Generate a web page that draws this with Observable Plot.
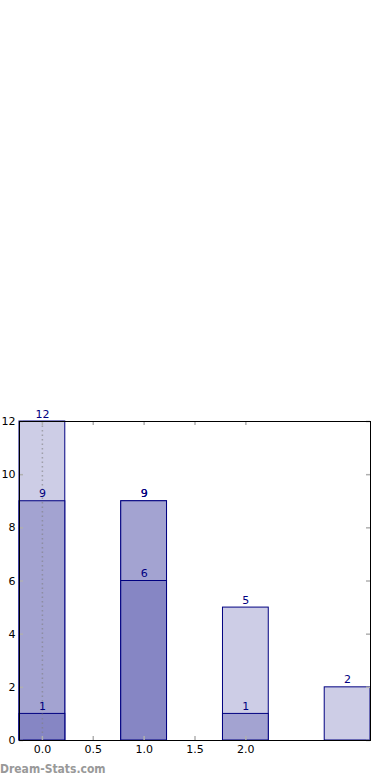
<!DOCTYPE html>
<html>
<head>
<meta charset="utf-8">
<script src="https://cdn.jsdelivr.net/npm/d3@7"></script>
<script src="https://cdn.jsdelivr.net/npm/@observablehq/plot@0.6"></script>
<style>
  html, body { margin: 0; padding: 0; background: #fff; }
  #wrap { position: relative; width: 390px; height: 780px; }
  #wm { position: absolute; left: 0px; top: 762px; font-family: "DejaVu Sans Condensed", "DejaVu Sans", sans-serif; font-stretch: condensed; font-weight: bold; font-size: 12px; line-height: 14px; color: #999; }
</style>
</head>
<body>
<div id="wrap"><div id="wm">Dream-Stats.com</div></div>
<script>
const categories = [0, 1, 2, 3];
const darkValues = [1, 6, 0, 0];
const mediumValues = [9, 9, 1, 0];
const lightValues = [12, 9, 5, 2];
const xTicks = [0, 0.5, 1, 1.5, 2];
const yTicks = [0, 2, 4, 6, 8, 10, 12];

const half = 0.225;
const series = [
  {name: "light", values: lightValues, fill: "#cdcde6"},
  {name: "medium", values: mediumValues, fill: "#a3a3d1"},
  {name: "dark", values: darkValues, fill: "#8686c4"}
];
const rows = [];
series.forEach((s, si) => {
  categories.forEach((c, i) => {
    rows.push({series: s.name, order: si, x: c, v: s.values[i], fill: s.fill});
  });
});
const shown = rows.filter(d => d.v > 0);

const W = 390, H = 780;
const mL = 19, mR = 20, mT = 421, mB = 40;
const pw = W - mL - mR, ph = H - mT - mB;

const chart = Plot.plot({
  width: W,
  height: H,
  marginLeft: mL,
  marginRight: mR,
  marginTop: mT,
  marginBottom: mB,
  style: {fontFamily: "DejaVu Sans, sans-serif", fontSize: "11px", background: "white"},
  x: {domain: [-half, categories[categories.length - 1] + half], axis: null},
  y: {domain: [0, 12], axis: null},
  marks: [
    Plot.rect(shown, {
      x1: d => d.x - half, x2: d => d.x + half, y1: 0, y2: "v",
      fill: "fill", stroke: "#000080", strokeWidth: 1
    }),
    Plot.ruleX([0], {stroke: "#808080", strokeOpacity: 0.6, strokeWidth: 1.5, strokeDasharray: "1.5,3"}),
    Plot.text(shown, {
      x: "x", y: "v", text: d => String(d.v), fill: "#000080",
      lineAnchor: "bottom", dy: -4, fontSize: 11
    }),
    // inward tick marks
    Plot.ruleY(yTicks, {stroke: "#b0b0b0", strokeWidth: 1.5, insetRight: pw - 4}),
    Plot.ruleY(yTicks, {stroke: "#b0b0b0", strokeWidth: 1.5, insetLeft: pw - 4}),
    Plot.ruleX(xTicks, {stroke: "#b0b0b0", strokeWidth: 1.5, insetTop: ph - 4}),
    Plot.ruleX(xTicks, {stroke: "#b0b0b0", strokeWidth: 1.5, insetBottom: ph - 4}),
    Plot.axisY({ticks: yTicks, tickSize: 0, tickPadding: 4, tickFormat: d => String(d), fill: "black", fontSize: 11, label: null}),
    Plot.axisX({ticks: xTicks, tickSize: 0, tickPadding: 5, tickFormat: d3.format(".1f"), fill: "black", fontSize: 11, label: null}),
    Plot.frame({stroke: "black", strokeWidth: 1})
  ]
});
document.getElementById("wrap").prepend(chart);
</script>
</body>
</html>
